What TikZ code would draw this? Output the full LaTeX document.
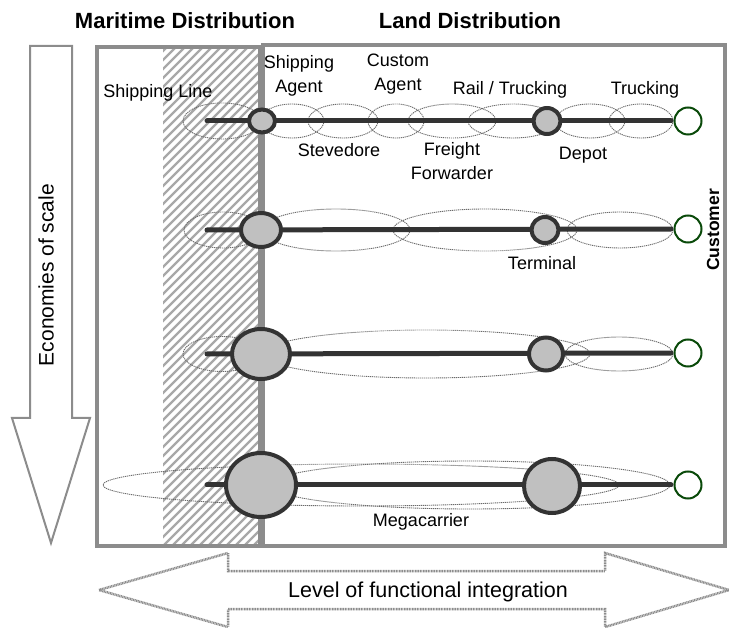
\documentclass[tikz,border=0pt]{standalone}
\usepackage{fontspec}
\setmainfont{Liberation Sans}
\usetikzlibrary{shapes.geometric}
\definecolor{framegray}{HTML}{8C8C8C}
\definecolor{hatchgray}{HTML}{A8A8A8}
\definecolor{hubfill}{HTML}{C0C0C0}
\definecolor{hubline}{HTML}{333333}
\definecolor{custgreen}{HTML}{0A4A0A}
\definecolor{ringgray}{HTML}{6A6A6A}

\begin{document}
\begin{tikzpicture}[x=1pt,y=-1pt,
  hub/.style={ellipse,draw=hubline,line width=4pt,fill=hubfill,inner sep=0pt},
  customer/.style={circle,draw=custgreen,line width=2pt,fill=white,minimum size=27pt,inner sep=0pt},
  chain/.style={draw=hubline,line width=5pt,line cap=round,shorten >=2.5pt},
  ring/.style={draw=ringgray,line width=0.9pt,dash pattern=on 1.2pt off 0.8pt},
  lbl/.style={font=\fontsize{18}{24}\selectfont,inner sep=0pt,align=center},
  hdr/.style={font=\fontsize{22}{26}\selectfont\bfseries,inner sep=0pt}]
\useasboundingbox (0,0) rectangle (729,628);
\begin{scope}
\clip (163,47) rectangle (258,545);
\foreach \hx in {-340,-331,...,260}
  \draw[hatchgray,line width=2.2pt] (\hx,545)--++(500,-500);
\end{scope}
\draw[framegray,line width=3.8pt] (97,47) rectangle (260,546);
\draw[framegray,line width=3.8pt] (263,45) rectangle (725,546);
\draw[framegray,line width=2pt,fill=white] (30,46)--(72,46)--(72,418)--(90,418)--(51,543)--(12,418)--(30,418)--cycle;
\node[rotate=90,font=\fontsize{21}{24}\selectfont,inner sep=0pt] (scale) at (46,275) {Economies of scale};
\draw[framegray,line width=2.5pt,dash pattern=on 1pt off 0.6pt] (99,590)--(228,553)--(228,571)--(605,571)--(605,553)--(729,590)--(605,627)--(605,609)--(228,609)--(228,627)--cycle;
\node[font=\fontsize{21.5}{24}\selectfont,inner sep=0pt] (integ) at (428,592) {Level of functional integration};
\node[hdr] (marit) at (185,21) {Maritime Distribution};
\node[hdr] (land) at (470,21) {Land Distribution};
\draw[ring] (222,121) ellipse [x radius=39,y radius=18];
\draw[ring] (292,121) ellipse [x radius=32,y radius=17];
\draw[ring] (343,121) ellipse [x radius=35,y radius=17];
\draw[ring] (396,121) ellipse [x radius=28,y radius=17];
\draw[ring] (452,121) ellipse [x radius=44,y radius=17];
\draw[ring] (513,121) ellipse [x radius=45,y radius=17];
\draw[ring] (590,121) ellipse [x radius=35,y radius=17];
\draw[ring] (641,121) ellipse [x radius=32,y radius=17];
\node[customer] (cust1) at (688,121) {};
\coordinate (start1) at (207,121);
\draw[chain] (start1)--(cust1.west);
\node[hub,minimum width=26pt,minimum height=23pt] (agent1) at (262,121) {};
\node[hub,minimum width=27pt,minimum height=26pt] (depot1) at (547,121) {};
\draw[ring] (223,230) ellipse [x radius=39,y radius=18];
\draw[ring] (336,230) ellipse [x radius=74,y radius=21];
\draw[ring] (485,230) ellipse [x radius=92,y radius=21];
\draw[ring] (620,230) ellipse [x radius=53,y radius=18];
\node[customer] (cust2) at (688,229) {};
\coordinate (start2) at (207,230);
\draw[chain] (start2)--(cust2.west);
\node[hub,minimum width=40pt,minimum height=34pt] (agent2) at (261,230) {};
\node[hub,minimum width=27pt,minimum height=26pt] (term2) at (545,230) {};
\draw[ring] (222,354) ellipse [x radius=39,y radius=17.5];
\draw[ring] (426,354) ellipse [x radius=164,y radius=24];
\draw[ring] (619,354) ellipse [x radius=54,y radius=17];
\node[customer] (cust3) at (688,353) {};
\coordinate (start3) at (207,354);
\draw[chain] (start3)--(cust3.west);
\node[hub,minimum width=58pt,minimum height=50pt] (agent3) at (261,354) {};
\node[hub,minimum width=34pt,minimum height=33pt] (term3) at (546,354) {};
\draw[ring] (361,485) ellipse [x radius=258,y radius=21];
\draw[ring] (470,485) ellipse [x radius=200,y radius=24];
\node[customer] (cust4) at (688,485) {};
\coordinate (start4) at (207,485);
\draw[chain] (start4)--(cust4.west);
\node[hub,minimum width=70pt,minimum height=64pt] (agent4) at (261,485) {};
\node[hub,minimum width=56pt,minimum height=54pt] (term4) at (552,486) {};
\node[lbl] (shline) at (158,93) {Shipping Line};
\node[lbl] (shagent) at (299,76) {Shipping\\Agent};
\node[lbl] (custag) at (398,74) {Custom\\Agent};
\node[lbl] (rail) at (510,90) {Rail / Trucking};
\node[lbl] (truck) at (645,90) {Trucking};
\node[lbl] (steve) at (339,150) {Stevedore};
\node[lbl] (freight) at (452,161) {Freight\\Forwarder};
\node[lbl] (depot) at (583,155) {Depot};
\node[lbl] (term) at (542,263) {Terminal};
\node[lbl] (mega) at (421,522) {Megacarrier};
\node[rotate=90,font=\fontsize{17.5}{20}\selectfont\bfseries,inner sep=0pt] (custlbl) at (713,230) {Customer};
\end{tikzpicture}
\end{document}
